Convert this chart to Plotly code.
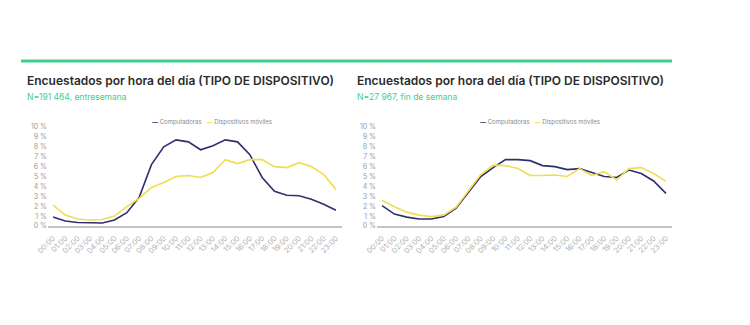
import plotly.graph_objects as go

hours = [f"{h:02d}:00" for h in range(24)]
y_ticks = list(range(0, 11))
y_tick_labels = [f"{v} %" for v in y_ticks]

# Weekday (entresemana)
wd_comp = [0.9, 0.5, 0.35, 0.3, 0.3, 0.6, 1.35, 2.9, 6.2, 8.0, 8.7, 8.5,
           7.7, 8.1, 8.7, 8.5, 7.2, 4.9, 3.5, 3.1, 3.05, 2.7, 2.2, 1.6]
wd_mob = [2.1, 1.1, 0.7, 0.6, 0.65, 1.0, 1.95, 2.8, 3.9, 4.4, 5.0, 5.1,
          4.9, 5.4, 6.7, 6.3, 6.7, 6.7, 6.0, 5.9, 6.4, 6.0, 5.2, 3.7]
# Weekend (fin de semana)
we_comp = [2.05, 1.2, 0.9, 0.7, 0.7, 0.95, 1.8, 3.4, 5.0, 5.9, 6.7, 6.7,
           6.6, 6.1, 6.0, 5.7, 5.8, 5.4, 5.0, 4.9, 5.65, 5.3, 4.55, 3.3]
we_mob = [2.6, 1.95, 1.4, 1.1, 0.95, 1.1, 1.9, 3.6, 5.2, 6.15, 6.1, 5.8,
          5.1, 5.1, 5.15, 5.0, 5.8, 5.1, 5.5, 4.65, 5.8, 5.9, 5.3, 4.5]

titles = ["Encuestados por hora del día (TIPO DE DISPOSITIVO)"] * 2
subtitles = ["N=191 464, entresemana", "N=27 967, fin de semana"]
series_names = ["Computadoras", "Dispositivos móviles"]

COMP = "#2f2f6e"
MOB = "#f1dc52"
GREEN = "#3ecf8e"
W, H = 750, 325

fig = go.Figure()
xs = list(range(24))
for i, (c, m) in enumerate([(wd_comp, wd_mob), (we_comp, we_mob)]):
    xa = "x" if i == 0 else "x2"
    ya = "y" if i == 0 else "y2"
    fig.add_trace(go.Scatter(x=xs, y=c, mode="lines", name=series_names[0],
                             line=dict(color=COMP, width=1.6), xaxis=xa, yaxis=ya,
                             showlegend=False))
    fig.add_trace(go.Scatter(x=xs, y=m, mode="lines", name=series_names[1],
                             line=dict(color=MOB, width=1.6), xaxis=xa, yaxis=ya,
                             showlegend=False))

def px_x(p):
    return p / W

def px_y(p):
    return 1 - p / H

xaxis_common = dict(
    tickmode="array", tickvals=xs, ticktext=hours, tickangle=-45,
    tickfont=dict(family="Inter", size=7.5, color="#b0b0b0"),
    ticklabelstandoff=3,
    showgrid=False, zeroline=False, showline=True, linecolor="#c4c4c4",
    linewidth=2, ticks="", range=[-0.41, 23.49], fixedrange=True,
    automargin=False,
)
yaxis_common = dict(
    tickmode="array", tickvals=y_ticks, ticktext=y_tick_labels,
    tickfont=dict(family="Inter", size=7, color="#9a9a9a"),
    showgrid=False, zeroline=False, showline=False, ticks="",
    range=[0, 10], fixedrange=True, automargin=False,
)

fig.update_layout(
    template="none",
    width=W, height=H, autosize=False,
    margin=dict(l=0, r=0, t=0, b=0, pad=0),
    paper_bgcolor="white", plot_bgcolor="white",
    xaxis=dict(domain=[px_x(48), px_x(342)], anchor="y", **xaxis_common),
    yaxis=dict(domain=[px_y(226), px_y(127)], anchor="x", **yaxis_common),
    xaxis2=dict(domain=[px_x(377), px_x(672)], anchor="y2", **xaxis_common),
    yaxis2=dict(domain=[px_y(226), px_y(127)], anchor="x2", **yaxis_common),
    font=dict(family="Inter"),
)

# Top green rule
fig.add_shape(type="line", xref="paper", yref="paper",
              x0=px_x(21), x1=px_x(672), y0=px_y(61), y1=px_y(61),
              line=dict(color=GREEN, width=3))

title_x = [26, 356]
legend_cx = [212, 540]
for i in range(2):
    fig.add_annotation(text=titles[i], xref="paper", yref="paper",
                       x=px_x(title_x[i]), y=px_y(80), xanchor="left", yanchor="middle",
                       showarrow=False, borderpad=0,
                       font=dict(family="Inter", size=12, color="#2b2b2b", weight=600))
    fig.add_annotation(text=subtitles[i], xref="paper", yref="paper",
                       x=px_x(title_x[i]), y=px_y(97), xanchor="left", yanchor="middle",
                       showarrow=False, borderpad=0,
                       font=dict(family="Inter", size=8.5, color=GREEN))
    leg = (f"<span style='color:{COMP}'><b>—</b></span> {series_names[0]}   "
           f"<span style='color:{MOB}'><b>—</b></span> {series_names[1]}")
    fig.add_annotation(text=leg, xref="paper", yref="paper",
                       x=px_x(legend_cx[i]), y=px_y(122), xanchor="center", yanchor="middle",
                       showarrow=False, borderpad=0,
                       font=dict(family="Inter", size=6, color="#8a8a8a"))

fig.write_html(
    "out.html",
    config={"responsive": False, "displayModeBar": False},
    post_script="document.body.style.margin='0';document.body.style.overflow='hidden';",
)
